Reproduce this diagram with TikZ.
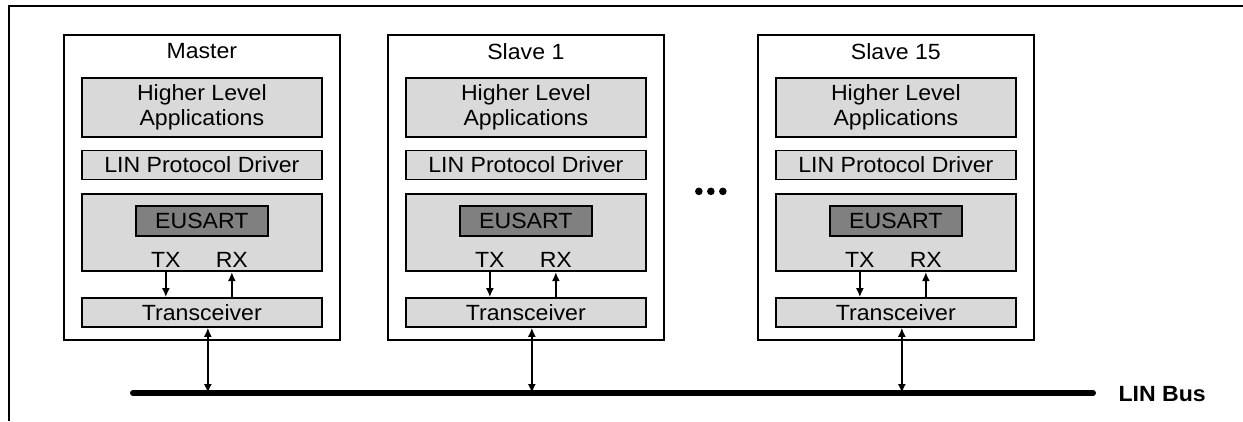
\documentclass[tikz,border=0pt]{standalone}
\usepackage{fontspec}
\setmainfont{Liberation Sans}[FakeStretch=1.05]
\usepackage{xcolor}
\usepackage{tikz}
\usetikzlibrary{arrows.meta,calc,positioning}

\definecolor{layerfill}{HTML}{D9D9D9}
\definecolor{corefill}{HTML}{808080}

\tikzset{
  unit/.style={draw,line width=1.7pt,minimum width=276pt,minimum height=305pt,inner sep=0pt},
  layer/.style={draw,line width=1.7pt,fill=layerfill,minimum width=240pt,inner sep=0pt,align=center},
  core/.style={draw,line width=1.7pt,fill=corefill,minimum width=132pt,minimum height=30pt,inner sep=0pt},
  link/.style={->,line width=1.6pt},
}

\begin{document}
\begin{tikzpicture}[x=1pt,y=-1pt,>={Latex[length=9pt,width=8pt]},font=\fontsize{22}{23}\selectfont]
  \useasboundingbox (0,0) rectangle (1243,421);
  \draw[line width=2.6pt] (9,421) -- (9,6) -- (1243,6);

  % the bus line
  \coordinate (busL) at (133,393);
  \coordinate (busR) at (1093,393);
  \draw[line width=6pt,line cap=round] (busL) -- (busR);
  \node[font=\fontsize{22}{23}\selectfont\bfseries,anchor=west] (busname) at (1115,394) {LIN Bus};

  % one LIN node per unit
  \foreach \n/\x/\title in {m/63/Master,sa/387/Slave 1,sb/757/Slave 15} {
    \node[unit,anchor=north west] (\n) at (\x,34) {};
    \node[below=6pt of \n.north] (\n-title) {\title};
    \node[layer,minimum height=59pt,below=43pt of \n.north] (\n-hla) {Higher Level\\[2pt]Applications};
    \node[layer,minimum height=29pt,below=12pt of \n-hla] (\n-lin) {LIN Protocol Driver};
    \node[layer,minimum height=77pt,below=13pt of \n-lin] (\n-ctl) {};
    \node[core,below=12pt of \n-ctl.north] (\n-eu) {EUSART};
    \node (\n-tx) at ($(\n-ctl.south)+(-36,-12)$) {TX};
    \node (\n-rx) at ($(\n-ctl.south)+(30,-12)$) {RX};
    \node[layer,minimum height=29pt,below=25pt of \n-ctl] (\n-trx) {Transceiver};
    \draw[link] (\n-tx |- \n-ctl.south) -- (\n-tx |- \n-trx.north);
    \draw[link] (\n-rx |- \n-trx.north) -- (\n-rx |- \n-ctl.south);
    \coordinate (\n-tap) at ($(\n-trx.south)+(6,0)$);
    \draw[link,<->] (\n-tap) -- (\n-tap |- busL);
  }

  % more slaves in between
  \path (sa.east) -- (sb.west) coordinate[pos=.5] (gap);
  \foreach \d in {-12,0,12} \fill ($(gap)+(\d,4)$) circle (3.8pt);
\end{tikzpicture}
\end{document}
